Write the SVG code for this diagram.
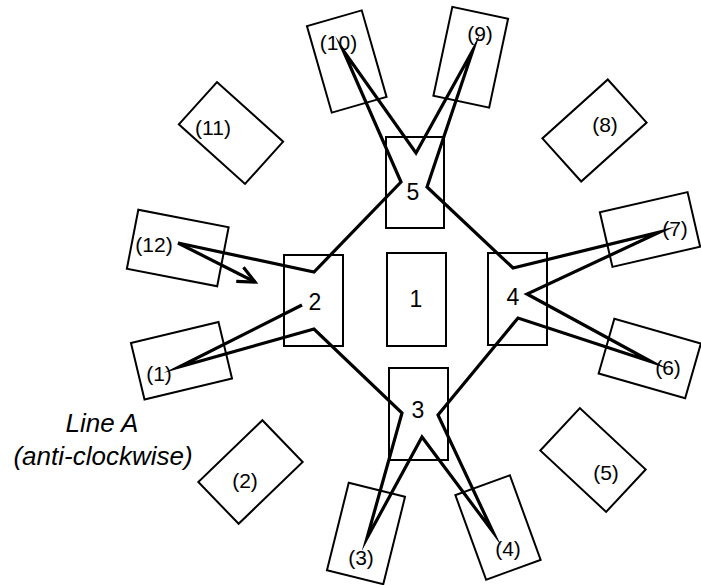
<svg xmlns="http://www.w3.org/2000/svg" width="701" height="585" viewBox="0 0 701 585">
<style>
.box{fill:none;stroke:#000;stroke-width:2}
.lbl{font-family:"Liberation Sans",Arial,sans-serif;font-size:21px;fill:#000;text-anchor:middle}
.num{font-family:"Liberation Sans",Arial,sans-serif;font-size:23px;fill:#000;text-anchor:middle}
.cap{font-family:"Liberation Sans",Arial,sans-serif;font-size:26px;font-style:italic;fill:#000;text-anchor:middle}
.route{fill:none;stroke:#000;stroke-width:3.2;stroke-linejoin:miter;stroke-miterlimit:20}
</style>
<defs>
<marker id="arr" markerUnits="userSpaceOnUse" markerWidth="24" markerHeight="20" refX="0" refY="0" viewBox="-20 -10 24 20" orient="auto" overflow="visible">
<path d="M-17,-8 L0,0 L-17,8" fill="none" stroke="#000" stroke-width="3.2"/>
</marker>
</defs>
<rect width="701" height="585" fill="#fff"/>
<g id="connectors">
<path class="route" d="M178,243 L314,272 L401,182 L343,50 L416,153 L473,50 L427,187 L513,268 L660,232 L527,294 L652,362 L518,318 L438,415 L493,532 L422,437 L367,538 L402,413 L314,329 L179,367 L302,305"/>
<path class="route" d="M178,243 L255,282" marker-end="url(#arr)"/>
</g>
<g id="n1"><rect class="box" x="387" y="253" width="59" height="93"/><text class="num" x="416" y="307">1</text></g>
<g id="n2"><rect class="box" x="284" y="255" width="59" height="91"/><text class="num" x="315" y="310">2</text></g>
<g id="n3"><rect class="box" x="389" y="368" width="59" height="92"/><text class="num" x="418" y="418">3</text></g>
<g id="n4"><rect class="box" x="488" y="253" width="59" height="92"/><text class="num" x="513" y="305">4</text></g>
<g id="n5"><rect class="box" x="386" y="137" width="58" height="91"/><text class="num" x="413" y="200">5</text></g>
<g id="p1"><rect class="box" x="-45" y="-29" width="90" height="58" transform="translate(181.5,360.75) rotate(-13.5)"/><text class="lbl" x="159" y="381">(1)</text></g>
<g id="p2"><rect class="box" x="-44.5" y="-29" width="89" height="58" transform="translate(250.5,472) rotate(-44)"/><text class="lbl" x="245" y="488">(2)</text></g>
<g id="p3"><rect class="box" x="-29" y="-45" width="58" height="90" transform="translate(366,533.5) rotate(14)"/><text class="lbl" x="361" y="565">(3)</text></g>
<g id="p4"><rect class="box" x="-29" y="-45" width="58" height="90" transform="translate(498,527.5) rotate(-20)"/><text class="lbl" x="508" y="556">(4)</text></g>
<g id="p5"><rect class="box" x="-45" y="-29" width="90" height="58" transform="translate(593,460) rotate(43)"/><text class="lbl" x="606" y="480">(5)</text></g>
<g id="p6"><rect class="box" x="-45" y="-28.5" width="90" height="57" transform="translate(649.75,358.5) rotate(16)"/><text class="lbl" x="668" y="375">(6)</text></g>
<g id="p7"><rect class="box" x="-45" y="-28" width="90" height="56" transform="translate(650,229.5) rotate(-13)"/><text class="lbl" x="675" y="236">(7)</text></g>
<g id="p8"><rect class="box" x="-44" y="-29" width="88" height="58" transform="translate(594.5,130.5) rotate(-42)"/><text class="lbl" x="605" y="132">(8)</text></g>
<g id="p9"><rect class="box" x="-28.5" y="-45.5" width="57" height="91" transform="translate(470.75,57.25) rotate(12)"/><text class="lbl" x="480" y="41">(9)</text></g>
<g id="p10"><rect class="box" x="-28.5" y="-45" width="57" height="90" transform="translate(346.75,61.5) rotate(-16)"/><text class="lbl" x="338.5" y="50">(10)</text></g>
<g id="p11"><rect class="box" x="-44.5" y="-28.5" width="89" height="57" transform="translate(231,133) rotate(42)"/><text class="lbl" x="213" y="135">(11)</text></g>
<g id="p12"><rect class="box" x="-46" y="-30" width="92" height="60" transform="translate(177.75,248) rotate(11)"/><text class="lbl" x="154" y="252">(12)</text></g>
<g id="caption"><text class="cap" x="102" y="432">Line A</text><text class="cap" x="103" y="465">(anti-clockwise)</text></g>
</svg>
